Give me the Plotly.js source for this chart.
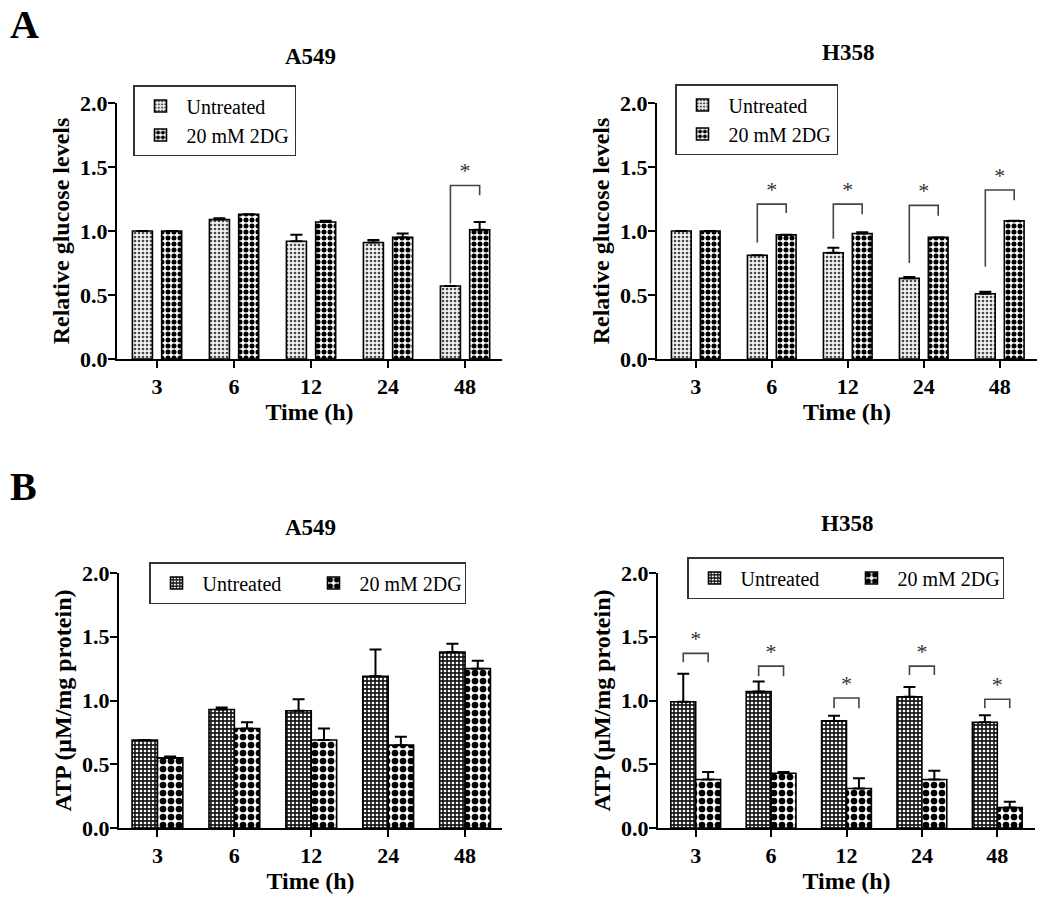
<!DOCTYPE html>
<html>
<head>
<meta charset="utf-8">
<script src="https://cdn.plot.ly/plotly-3.0.1.min.js"></script>
<style>html,body{margin:0;padding:0;background:#fff;overflow:hidden;}#chart{width:1050px;height:909px;}</style>
</head>
<body>
<div id="chart"></div>
<script>
// ---------- data ----------
const timeLabels = ['3', '6', '12', '24', '48'];
const seriesNames = ['Untreated', '20 mM 2DG'];

// Panel A: relative glucose levels
const glucA549Untreated = [1.00, 1.09, 0.92, 0.91, 0.57];
const glucA549UntreatedErr = [0.00, 0.01, 0.05, 0.02, 0.00];
const glucA549Treated = [1.00, 1.13, 1.07, 0.95, 1.01];
const glucA549TreatedErr = [0.00, 0.00, 0.01, 0.03, 0.06];

const glucH358Untreated = [1.00, 0.81, 0.83, 0.63, 0.51];
const glucH358UntreatedErr = [0.00, 0.00, 0.04, 0.01, 0.015];
const glucH358Treated = [1.00, 0.97, 0.98, 0.95, 1.08];
const glucH358TreatedErr = [0.00, 0.00, 0.01, 0.00, 0.00];

// Panel B: ATP (uM/mg protein)
const atpA549Untreated = [0.69, 0.93, 0.92, 1.19, 1.38];
const atpA549UntreatedErr = [0.00, 0.015, 0.09, 0.21, 0.065];
const atpA549Treated = [0.55, 0.78, 0.69, 0.65, 1.25];
const atpA549TreatedErr = [0.01, 0.05, 0.09, 0.065, 0.062];

const atpH358Untreated = [0.99, 1.07, 0.84, 1.03, 0.83];
const atpH358UntreatedErr = [0.22, 0.08, 0.04, 0.075, 0.055];
const atpH358Treated = [0.38, 0.43, 0.31, 0.38, 0.16];
const atpH358TreatedErr = [0.06, 0.01, 0.08, 0.07, 0.045];

// significance brackets: category index, bracket top, left-leg end, right-leg end
const sigGlucA549Idx = [4];
const sigGlucA549Top = [1.355];
const sigGlucA549Left = [0.59];
const sigGlucA549Right = [1.28];

const sigGlucH358Idx = [1, 2, 3, 4];
const sigGlucH358Top = [1.21, 1.21, 1.20, 1.32];
const sigGlucH358Left = [0.91, 0.94, 0.75, 0.72];
const sigGlucH358Right = [1.14, 1.13, 1.12, 1.24];

const sigAtpH358Idx = [0, 1, 2, 3, 4];
const sigAtpH358Top = [1.37, 1.27, 1.02, 1.27, 1.01];
const sigAtpH358Left = [1.30, 1.19, 0.94, 1.20, 0.94];
const sigAtpH358Right = [1.30, 1.19, 0.94, 1.20, 0.94];

// ---------- styling ----------
const FONT = 'Liberation Serif, Times New Roman, serif';
const idx = timeLabels.map((_, i) => i);

const patA_untreated = {shape: '.', size: 4, solidity: 0.35, fgcolor: '#4a4a4a', bgcolor: '#f2f2f2', fillmode: 'replace'};
const patA_treated = {shape: '.', size: 6, solidity: 0.55, fgcolor: '#000', bgcolor: '#fff', fillmode: 'replace'};
const patB_untreated = {shape: '.', size: 4, solidity: 0.35, fgcolor: '#fff', bgcolor: '#1a1a1a', fillmode: 'replace'};
const patB_treated = {shape: '.', size: 8, solidity: 0.55, fgcolor: '#000', bgcolor: '#fff', fillmode: 'replace'};

function barTrace(name, y, err, pattern, offset, width, xa, ya, legend) {
  return {
    type: 'bar', name: name, x: idx, y: y,
    offset: offset, width: width,
    xaxis: xa, yaxis: ya, legend: legend, showlegend: true,
    marker: {color: '#fff', pattern: pattern, line: {color: '#000', width: 1.6}},
    error_y: {type: 'data', array: err, arrayminus: err.map(() => 0), symmetric: false,
              color: '#000', thickness: 2, width: 6},
    hoverinfo: 'skip'
  };
}

function bracketTraces(sigIdx, top, left, right, xl, xr, xa, ya) {
  const bx = [], by = [], sx = [], sy = [];
  sigIdx.forEach((c, k) => {
    bx.push(c + xl, c + xl, c + xr, c + xr, null);
    by.push(left[k], top[k], top[k], right[k], null);
    sx.push(c + (xl + xr) / 2);
    sy.push(top[k] + 0.10);
  });
  return [
    {type: 'scatter', mode: 'lines', x: bx, y: by, xaxis: xa, yaxis: ya, showlegend: false,
     line: {color: '#444', width: 1.6}, hoverinfo: 'skip', cliponaxis: false},
    {type: 'scatter', mode: 'text', x: sx, y: sy, text: sx.map(() => '*'), xaxis: xa, yaxis: ya,
     showlegend: false, textposition: 'middle center', cliponaxis: false,
     textfont: {family: FONT, size: 22, color: '#333'}, hoverinfo: 'skip'}
  ];
}

// bar geometry (in category units)
const aOffU = -0.32, aOffT = 0.06, aW = 0.26;
const bOffU = -0.33, bOffT = 0.0, bW = 0.33;

const traces = [
  barTrace(seriesNames[0], glucA549Untreated, glucA549UntreatedErr, patA_untreated, aOffU, aW, 'x', 'y', 'legend'),
  barTrace(seriesNames[1], glucA549Treated, glucA549TreatedErr, patA_treated, aOffT, aW, 'x', 'y', 'legend'),
  barTrace(seriesNames[0], glucH358Untreated, glucH358UntreatedErr, patA_untreated, aOffU, aW, 'x2', 'y2', 'legend2'),
  barTrace(seriesNames[1], glucH358Treated, glucH358TreatedErr, patA_treated, aOffT, aW, 'x2', 'y2', 'legend2'),
  barTrace(seriesNames[0], atpA549Untreated, atpA549UntreatedErr, patB_untreated, bOffU, bW, 'x3', 'y3', 'legend3'),
  barTrace(seriesNames[1], atpA549Treated, atpA549TreatedErr, patB_treated, bOffT, bW, 'x3', 'y3', 'legend3'),
  barTrace(seriesNames[0], atpH358Untreated, atpH358UntreatedErr, patB_untreated, bOffU, bW, 'x4', 'y4', 'legend4'),
  barTrace(seriesNames[1], atpH358Treated, atpH358TreatedErr, patB_treated, bOffT, bW, 'x4', 'y4', 'legend4')
].concat(
  bracketTraces(sigGlucA549Idx, sigGlucA549Top, sigGlucA549Left, sigGlucA549Right, aOffU + aW / 2, aOffT + aW / 2, 'x', 'y'),
  bracketTraces(sigGlucH358Idx, sigGlucH358Top, sigGlucH358Left, sigGlucH358Right, aOffU + aW / 2, aOffT + aW / 2, 'x2', 'y2'),
  bracketTraces(sigAtpH358Idx, sigAtpH358Top, sigAtpH358Left, sigAtpH358Right, bOffU + bW / 2, bOffT + bW / 2, 'x4', 'y4')
);

const W = 1050, H = 909;
function px(x) { return x / W; }
function py(y) { return 1 - y / H; }

function xAxis(x0, x1, range, anchor) {
  return {
    domain: [px(x0), px(x1)], range: range, anchor: anchor,
    tickmode: 'array', tickvals: idx, ticktext: timeLabels,
    showline: true, linecolor: '#000', linewidth: 2,
    ticks: 'outside', ticklen: 7, tickwidth: 2, tickcolor: '#000',
    showgrid: false, zeroline: false, automargin: false,
    tickfont: {family: FONT, size: 22, color: '#000', weight: 'bold'},
    title: {text: 'Time (h)', font: {family: FONT, size: 24, color: '#000', weight: 'bold'}, standoff: 4},
    fixedrange: true
  };
}
function yAxis(y0, y1, title, anchor) {
  return {
    domain: [py(y1), py(y0)], range: [0, 2], anchor: anchor,
    tickmode: 'linear', tick0: 0, dtick: 0.5, tickformat: '.1f',
    showline: true, linecolor: '#000', linewidth: 2,
    ticks: 'outside', ticklen: 7, tickwidth: 2, tickcolor: '#000',
    ticklabelstandoff: -4,
    showgrid: false, zeroline: false, automargin: false,
    tickfont: {family: FONT, size: 22, color: '#000', weight: 'bold'},
    title: {text: title, font: {family: FONT, size: 24, color: '#000', weight: 'bold'}, standoff: 4},
    fixedrange: true
  };
}
function legendBox(x, y, horizontal) {
  const l = {
    x: px(x), y: py(y), xanchor: 'left', yanchor: 'top',
    bgcolor: '#fff', bordercolor: '#333', borderwidth: 1.5,
    font: {family: FONT, size: 20, color: '#000'},
    orientation: horizontal ? 'h' : 'v', tracegroupgap: 0,
    traceorder: 'normal', itemwidth: 42
  };
  if (horizontal) { l.entrywidth = 100; l.entrywidthmode = 'pixels'; }
  return l;
}

const layout = {
  width: W, height: H,
  margin: {l: 0, r: 0, t: 0, b: 0, autoexpand: false},
  paper_bgcolor: '#fff', plot_bgcolor: 'rgba(0,0,0,0)',
  font: {family: FONT, color: '#000'},
  barmode: 'overlay',
  xaxis: xAxis(117, 502, [-0.52, 4.48], 'y'),
  yaxis: yAxis(103, 359, 'Relative glucose levels', 'x'),
  xaxis2: xAxis(657, 1037, [-0.51, 4.49], 'y2'),
  yaxis2: yAxis(103, 359, 'Relative glucose levels', 'x2'),
  xaxis3: xAxis(119, 502, [-0.5, 4.48], 'y3'),
  yaxis3: yAxis(573, 828, 'ATP (μM/mg protein)', 'x3'),
  xaxis4: xAxis(658, 1035, [-0.5, 4.5], 'y4'),
  yaxis4: yAxis(573, 828, 'ATP (μM/mg protein)', 'x4'),
  legend: legendBox(133, 85, false),
  legend2: legendBox(675, 84, false),
  legend3: legendBox(149, 562, true),
  legend4: legendBox(687, 557, true),
  annotations: [
    {text: 'A', x: px(8), y: py(0), xref: 'paper', yref: 'paper', xanchor: 'left', yanchor: 'top', showarrow: false,
     font: {family: FONT, size: 40, color: '#000', weight: 'bold'}},
    {text: 'B', x: px(8), y: py(462), xref: 'paper', yref: 'paper', xanchor: 'left', yanchor: 'top', showarrow: false,
     font: {family: FONT, size: 40, color: '#000', weight: 'bold'}},
    {text: 'A549', x: px(310), y: py(56), xref: 'paper', yref: 'paper', xanchor: 'center', yanchor: 'middle', showarrow: false,
     font: {family: FONT, size: 23, color: '#000', weight: 'bold'}},
    {text: 'H358', x: px(848), y: py(53), xref: 'paper', yref: 'paper', xanchor: 'center', yanchor: 'middle', showarrow: false,
     font: {family: FONT, size: 23, color: '#000', weight: 'bold'}},
    {text: 'A549', x: px(310), y: py(527), xref: 'paper', yref: 'paper', xanchor: 'center', yanchor: 'middle', showarrow: false,
     font: {family: FONT, size: 23, color: '#000', weight: 'bold'}},
    {text: 'H358', x: px(847), y: py(523), xref: 'paper', yref: 'paper', xanchor: 'center', yanchor: 'middle', showarrow: false,
     font: {family: FONT, size: 23, color: '#000', weight: 'bold'}}
  ]
};

Plotly.newPlot('chart', traces, layout, {displayModeBar: false, staticPlot: true});
</script>
</body>
</html>
